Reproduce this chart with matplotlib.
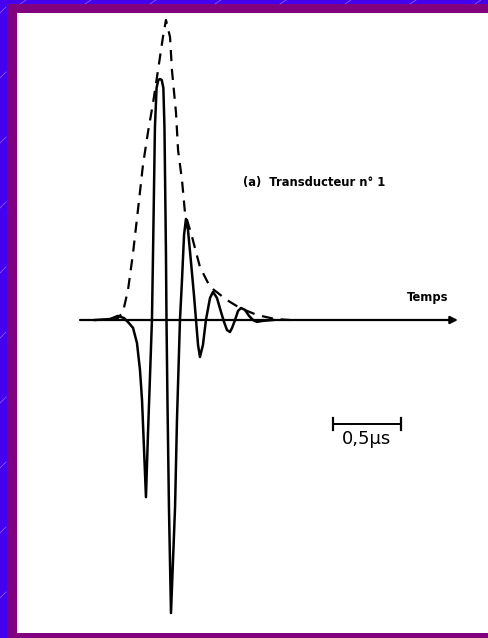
import matplotlib.pyplot as plt
from matplotlib.patches import Rectangle

# signal: time in microseconds, amplitude relative to main peak
t_sig = [0.110, 0.221, 0.279, 0.324, 0.360, 0.390, 0.419, 0.441, 0.456, 0.471,
         0.485, 0.500, 0.515, 0.529, 0.537, 0.551, 0.563, 0.576, 0.588, 0.601,
         0.613, 0.621, 0.632, 0.636, 0.643, 0.654, 0.669, 0.684, 0.699, 0.713,
         0.735, 0.750, 0.765, 0.779, 0.794, 0.816, 0.838, 0.853, 0.868, 0.882,
         0.904, 0.926, 0.956, 0.978, 1.007, 1.037, 1.059, 1.081, 1.103, 1.118,
         1.140, 1.162, 1.184, 1.213, 1.243, 1.272, 1.301, 1.338, 1.420]
a_sig = [0.000, 0.004, 0.017, 0.008, -0.013, -0.033, -0.096, -0.208, -0.333, -0.542,
         -0.738, -0.471, -0.229, 0.000, 0.279, 0.804, 0.967, 1.000, 1.004, 1.000,
         0.967, 0.804, 0.279, 0.000, -0.333, -0.779, -1.221, -1.000, -0.779, -0.417,
         0.000, 0.167, 0.354, 0.421, 0.375, 0.242, 0.104, 0.000, -0.104, -0.154,
         -0.104, 0.000, 0.092, 0.117, 0.092, 0.033, -0.008, -0.042, -0.050, -0.033,
         0.000, 0.038, 0.050, 0.042, 0.017, 0.000, -0.008, -0.004, 0.000]

# dashed envelope
t_env = [0.235, 0.279, 0.316, 0.353, 0.390, 0.426, 0.463, 0.500, 0.537, 0.574,
         0.610, 0.632, 0.662, 0.676, 0.706, 0.721, 0.750, 0.772, 0.824, 0.882,
         0.956, 1.081, 1.176, 1.301, 1.434, 1.544]
a_env = [0.000, 0.008, 0.033, 0.125, 0.279, 0.458, 0.646, 0.783, 0.904, 1.042,
         1.179, 1.250, 1.179, 1.042, 0.863, 0.708, 0.583, 0.446, 0.346, 0.221,
         0.138, 0.083, 0.050, 0.021, 0.004, 0.000]

t_axis_end = 2.779
scale_len = 0.5   # µs
scale_start = 1.860

fig = plt.figure(figsize=(4.88, 6.38), dpi=100)
fig.patch.set_facecolor('#4400ee')
ax = fig.add_axes([0, 0, 1, 1])
ax.set_xlim(-80 / 136, 408 / 136)
ax.set_ylim(-318 / 240, 320 / 240)
ax.axis('off')

# frame: purple band then white page
ax.add_patch(Rectangle((7 / 488, 0), 1, 634 / 638, transform=ax.transAxes,
                       facecolor='#800080', edgecolor='none', zorder=0))
ax.add_patch(Rectangle((17 / 488, 5 / 638), 1, 620 / 638, transform=ax.transAxes,
                       facecolor='white', edgecolor='none', zorder=0))
# faint diagonal streaks in the blue border
for k in range(8):
    x0 = (20 + 65 * k) / 488
    ax.plot([x0, x0 + 6 / 488], [1 - 4 / 638, 1], transform=ax.transAxes,
            color='#c8b8ff', lw=0.5, alpha=0.6, zorder=0.5)
for k in range(10):
    y0 = (40 + 65 * k) / 638
    ax.plot([0, 6 / 488], [y0, y0 + 6 / 638], transform=ax.transAxes,
            color='#c8b8ff', lw=0.5, alpha=0.6, zorder=0.5)

# time axis
ax.annotate('', xy=(t_axis_end, 0), xytext=(0, 0),
            arrowprops=dict(arrowstyle='-|>', color='black', lw=1.6,
                            mutation_scale=11, shrinkA=0, shrinkB=0))
ax.text(2.555, 0.095, 'Temps', fontsize=8.3, fontweight='bold',
        ha='center', va='center', family='DejaVu Sans')

ax.plot(t_env, a_env, color='black', lw=1.6, dashes=(5, 3.5), zorder=3)
ax.plot(t_sig, a_sig, color='black', lw=1.8, solid_joinstyle='round', zorder=4)

ax.text(1.721, 0.571, '(a)  Transducteur n° 1', fontsize=8.3,
        fontweight='bold', ha='center', va='center', family='DejaVu Sans')

# scale bar
ax.plot([scale_start, scale_start + scale_len], [-0.433, -0.433], color='black', lw=1.4)
for xx in (scale_start, scale_start + scale_len):
    ax.plot([xx, xx], [-0.408, -0.458], color='black', lw=1.6)
ax.text(scale_start + scale_len / 2, -0.496, '0,5µs', fontsize=13,
        ha='center', va='center', family='DejaVu Sans')

plt.savefig('out.png', dpi=100, facecolor=fig.get_facecolor())
